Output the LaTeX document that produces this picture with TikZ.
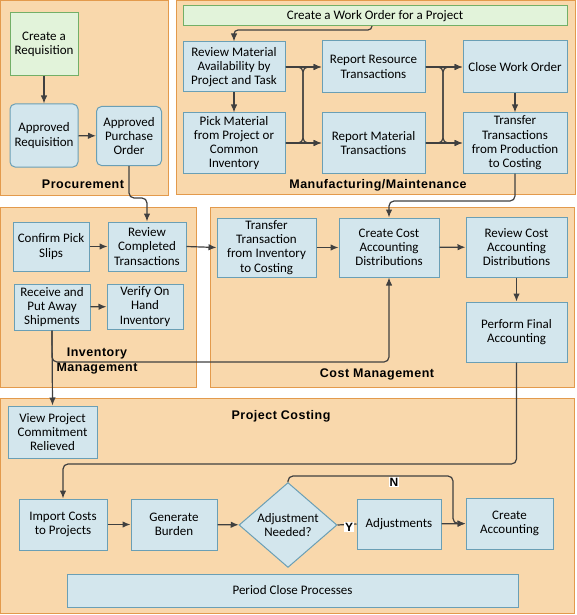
\documentclass[tikz,border=0pt]{standalone}
\usepackage{fontspec}
\setmainfont{Carlito}
\newfontfamily\headfont[LetterSpace=4]{Liberation Sans}
\usetikzlibrary{arrows,arrows.meta,shapes}
\usetikzlibrary{positioning}
\usetikzlibrary{calc}
\definecolor{panelfill}{HTML}{F9D8AC}
\definecolor{paneldraw}{HTML}{E39A4C}
\definecolor{boxfill}{HTML}{D3E6ED}
\definecolor{boxdraw}{HTML}{6A9FB5}
\definecolor{startfill}{HTML}{E2F3DA}
\definecolor{startdraw}{HTML}{73AF67}
\definecolor{linecol}{HTML}{404040}

\begin{document}
\begin{tikzpicture}
  [x=1pt,y=-1pt,
  panel/.style={draw=paneldraw,fill=panelfill,line width=1pt},
  box/.style={rectangle,draw=boxdraw,fill=boxfill,line width=1pt,inner sep=1pt,align=center,font=\fontsize{13}{14.3}\selectfont},
  rbox/.style={box,rounded corners=5pt},
  startbox/.style={box,draw=startdraw,fill=startfill},
  decide/.style={box,diamond,inner sep=0pt},
  title/.style={font=\headfont\bfseries\fontsize{12.5}{15}\selectfont,align=center},
  yn/.style={fill=white,inner sep=1pt,font=\headfont\bfseries\fontsize{12}{12}\selectfont},
  flow/.style={-{Latex[length=8pt,width=6.5pt]},draw=linecol,line width=1.2pt},
  link/.style={draw=linecol,line width=1.2pt}]
  \useasboundingbox (0,0) rectangle (576,615);

  % panels
  \draw[panel] (0.5,0.5) rectangle (168,195);
  \draw[panel] (176,0.5) rectangle (575,194);
  \draw[panel] (0.5,207) rectangle (196,387);
  \draw[panel] (210,207) rectangle (574,387);
  \draw[panel] (0.5,398) rectangle (574,613);

  \node[title] (proclbl) at (83,184) {Procurement};
  \node[title] (manulbl) at (378,185) {Manufacturing/Maintenance};
  \node[title] (invlbl) at (97,361) {Inventory\\Management};
  \node[title] (costlbl) at (377,374) {Cost Management};
  \node[title] (projlbl) at (281,416) {Project Costing};

  % procurement
  \node[startbox,minimum width=68,minimum height=63] (req) at (44,44.5) {Create a\\Requisition};
  \node[rbox,minimum width=68,minimum height=63] (appreq) at (44,135.5) {Approved\\Requisition};
  \node[rbox,minimum width=65,minimum height=59] (apppo) at (129,136) {Approved\\Purchase\\Order};

  % manufacturing
  \node[startbox,minimum width=384,minimum height=20] (wo) at (375,16) {Create a Work Order for a Project};
  \node[box,minimum width=102,minimum height=50] (revmat) at (234,67) {Review Material\\Availability by\\Project and Task};
  \node[box,minimum width=102,minimum height=60] (pickmat) at (234,143) {Pick Material\\from Project or\\Common\\Inventory};
  \node[box,minimum width=103,minimum height=52] (resource) at (373.5,67) {Report Resource\\Transactions};
  \node[box,minimum width=103,minimum height=60] (material) at (373.5,143) {Report Material\\Transactions};
  \node[box,minimum width=104,minimum height=52] (closewo) at (515,67) {Close Work Order};
  \node[box,minimum width=104,minimum height=60] (transprod) at (515,143) {Transfer\\Transactions\\from Production\\to Costing};

  % inventory
  \node[box,minimum width=76,minimum height=49] (confirm) at (51,246.5) {Confirm Pick\\Slips};
  \node[box,minimum width=78,minimum height=49] (revcomp) at (147,246.5) {Review\\Completed\\Transactions};
  \node[box,minimum width=76,minimum height=46] (receive) at (52,307) {Receive and\\Put Away\\Shipments};
  \node[box,minimum width=76,minimum height=45] (verify) at (145,306.5) {Verify On\\Hand\\Inventory};

  % cost management
  \node[box,minimum width=99,minimum height=59] (transinv) at (266.5,247.5) {Transfer\\Transaction\\from Inventory\\to Costing};
  \node[box,minimum width=100,minimum height=59] (createcost) at (389,247.5) {Create Cost\\Accounting\\Distributions};
  \node[box,minimum width=101,minimum height=60] (revcost) at (516.5,247) {Review Cost\\Accounting\\Distributions};
  \node[box,minimum width=101,minimum height=60] (final) at (516.5,332) {Perform Final\\Accounting};

  % project costing
  \node[box,minimum width=89,minimum height=52] (viewcommit) at (52.5,432) {View Project\\Commitment\\Relieved};
  \node[box,minimum width=88,minimum height=51] (import) at (63,524.5) {Import Costs\\to Projects};
  \node[box,minimum width=86,minimum height=51] (burden) at (174,524.5) {Generate\\Burden};
  \node[decide,minimum width=98,minimum height=72] (adjneed) at (288,525) {Adjustment\\Needed?};
  \node[box,minimum width=84,minimum height=50] (adjust) at (399,524) {Adjustments};
  \node[box,minimum width=87,minimum height=51] (createacct) at (509.5,523.5) {Create\\Accounting};
  \node[box,minimum width=451,minimum height=33] (period) at (292.5,590.5) {Period Close Processes};

  \coordinate (pobend) at (147,198);
  \coordinate (wobend) at (234,30);
  \coordinate (prodbend) at (389,201);
  \coordinate (recbend) at (389,362);
  \coordinate (finbend) at (63,464);
  \coordinate (nbend) at (453,476);

  % connectors
  \draw[flow] (req) -- (appreq);
  \draw[flow] (appreq) -- (apppo);
  \draw[flow,rounded corners=5pt] (apppo.south) |- (pobend) -- (revcomp.north);

  \draw[flow,rounded corners=4pt] (372,26) |- (wobend) -- (revmat.north);
  \draw[flow] (revmat) -- (pickmat);
  \draw[flow] (revmat.east) -- (resource.west);
  \draw[flow] (pickmat.east) -- (material.west);
  \draw[flow,rounded corners=5pt] (revmat.east) -| (303,143) -- (material.west);
  \draw[flow,rounded corners=5pt] (pickmat.east) -| (303,67) -- (resource.west);
  \draw[flow] (resource.east) -- (closewo.west);
  \draw[flow] (material.east) -- (transprod.west);
  \draw[flow,rounded corners=5pt] (resource.east) -| (443,143) -- (transprod.west);
  \draw[flow,rounded corners=5pt] (material.east) -| (443,67) -- (closewo.west);
  \draw[flow] (closewo) -- (transprod);
  \draw[flow,rounded corners=5pt] (transprod.south) |- (prodbend) -- (createcost.north);

  \draw[flow] (confirm) -- (revcomp);
  \draw[flow] (revcomp.east) -- (transinv.west);
  \draw[flow] (receive) -- (verify);
  \draw[flow] (receive.south) -- (viewcommit.north);
  \draw[flow,rounded corners=5pt] (receive.south) |- (recbend) -- (createcost.south);

  \draw[flow] (transinv) -- (createcost);
  \draw[flow] (createcost) -- (revcost);
  \draw[flow] (revcost) -- (final);
  \draw[flow,rounded corners=5pt] (final.south) |- (finbend) -- (import.north);

  \draw[flow] (import) -- (burden);
  \draw[flow] (burden) -- (adjneed);
  \draw[link] (adjneed.east) -- (adjust.west);
  \node[yn] (ylbl) at (349,527) {Y};
  \draw[flow,rounded corners=5pt] (adjneed.north) |- (nbend) |- (createacct.west);
  \node[yn] (nlbl) at (394,482) {N};
  \draw[flow] (adjust) -- (createacct);
\end{tikzpicture}
\end{document}
